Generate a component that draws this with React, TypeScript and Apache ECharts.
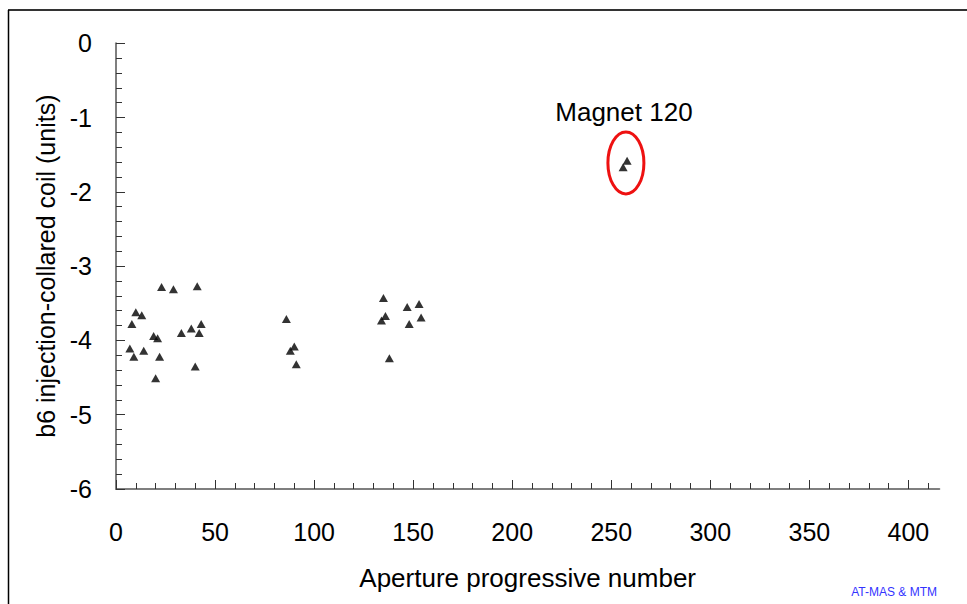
import React, { useEffect, useRef } from "react";
import * as echarts from "echarts";

// ---- data ----
const apertureNumbers = [
  23, 29, 41, 10, 13, 8, 86, 43, 38, 33, 42, 19, 21, 7, 14, 90, 88, 9, 22, 91, 40, 20,
  135, 147, 153, 136, 134, 154, 148, 138,
  258, 256,
];
const b6Values = [
  -3.28, -3.31, -3.27, -3.62, -3.66, -3.78, -3.71, -3.78, -3.84, -3.9, -3.9, -3.94, -3.97, -4.11, -4.14, -4.08, -4.14, -4.22, -4.22, -4.32, -4.35, -4.51,
  -3.43, -3.55, -3.51, -3.67, -3.73, -3.69, -3.78, -4.24,
  -1.58, -1.67,
];
const xMajorTicks = [0, 50, 100, 150, 200, 250, 300, 350, 400];
const xMinorTicks = [10, 20, 30, 40, 60, 70, 80, 90, 110, 120, 130, 140, 160, 170, 180, 190, 210, 220, 230, 240, 260, 270, 280, 290, 310, 320, 330, 340, 360, 370, 380, 390, 410];
const yMajorTicks = [-6, -5, -4, -3, -2, -1, 0];
const yMinorTicks = [
  -5.8, -5.6, -5.4, -5.2, -4.8, -4.6, -4.4, -4.2, -3.8, -3.6, -3.4, -3.2,
  -2.8, -2.6, -2.4, -2.2, -1.8, -1.6, -1.4, -1.2, -0.8, -0.6, -0.4, -0.2,
];
const xTitle = "Aperture progressive number";
const yTitle = "b6 injection-collared coil (units)";
const magnetLabel = "Magnet 120";
const magnetLabelAt = [256.4, -0.92];
const magnetCircleAt = [257.4, -1.61];
const creditText = "AT-MAS & MTM";

const FONT = "'Liberation Sans', Arial, sans-serif";

export default function App() {
  const ref = useRef<HTMLDivElement>(null);
  useEffect(() => {
    if (!ref.current) return;
    const chart = echarts.init(ref.current, null, { renderer: "svg" });
    const points = apertureNumbers.map((x, i) => [x, b6Values[i]]);
    const axisLineStyle = { color: "#7f7f7f", width: 2 };
    const tickStyle = { color: "#333", width: 1 };
    const option: any = {
      animation: false,
      backgroundColor: "#fff",
      grid: { left: 116, top: 43.3, right: 27.7, bottom: 115, containLabel: false },
      xAxis: [
        {
          type: "value", min: 0, max: 415.6, position: "bottom",
          axisLine: { show: true, onZero: false, lineStyle: axisLineStyle },
          axisTick: { show: true, inside: true, length: 9, customValues: xMajorTicks, lineStyle: tickStyle },
          axisLabel: { customValues: xMajorTicks, margin: 30, fontSize: 25, color: "#000", fontFamily: FONT },
          splitLine: { show: false },
          name: xTitle, nameLocation: "middle", nameGap: 76,
          nameTextStyle: { fontSize: 26, color: "#000", fontFamily: FONT },
        },
        {
          type: "value", min: 0, max: 415.6, position: "bottom",
          axisLine: { show: false, onZero: false },
          axisTick: { show: true, inside: true, length: 6, customValues: xMinorTicks, lineStyle: tickStyle },
          axisLabel: { show: false },
          splitLine: { show: false },
        },
      ],
      yAxis: [
        {
          type: "value", min: -6, max: 0, position: "left",
          axisLine: { show: true, onZero: false, lineStyle: axisLineStyle },
          axisTick: { show: true, inside: true, length: 9, customValues: yMajorTicks, lineStyle: tickStyle },
          axisLabel: { customValues: yMajorTicks, margin: 24, fontSize: 25, color: "#000", fontFamily: FONT },
          splitLine: { show: false },
          name: yTitle, nameLocation: "middle", nameGap: 57,
          nameTextStyle: { fontSize: 25, color: "#000", fontFamily: FONT },
        },
        {
          type: "value", min: -6, max: 0, position: "left",
          axisLine: { show: false, onZero: false },
          axisTick: { show: true, inside: true, length: 6, customValues: yMinorTicks, lineStyle: tickStyle },
          axisLabel: { show: false },
          splitLine: { show: false },
        },
      ],
      series: [
        {
          type: "scatter", xAxisIndex: 0, yAxisIndex: 0,
          symbol: "triangle", symbolSize: [9, 8],
          itemStyle: { color: "#000" },
          data: points,
        },
      ],
    };
    chart.setOption(option);

    const labelPx = chart.convertToPixel({ gridIndex: 0 }, magnetLabelAt) as number[];
    const circPx = chart.convertToPixel({ gridIndex: 0 }, magnetCircleAt) as number[];
    chart.setOption({
      graphic: [
        { type: "line", shape: { x1: 8, y1: 10, x2: 1000, y2: 10 }, style: { stroke: "#333", lineWidth: 2 } },
        { type: "line", shape: { x1: 8.5, y1: 10, x2: 8.5, y2: 700 }, style: { stroke: "#000", lineWidth: 1.5 } },
        {
          type: "ellipse",
          shape: { cx: circPx[0], cy: circPx[1], rx: 18, ry: 31 },
          style: { fill: "none", stroke: "#ee1111", lineWidth: 3 },
        },
        {
          type: "text", x: labelPx[0], y: labelPx[1],
          style: { text: magnetLabel, fontSize: 26, fontFamily: FONT, fill: "#000", textAlign: "center", textVerticalAlign: "middle" },
        },
        {
          type: "text", x: 937, y: 592,
          style: { text: creditText, fontSize: 12, fontFamily: FONT, fill: "#3333ff", textAlign: "right", textVerticalAlign: "middle" },
        },
      ],
    });
    return () => chart.dispose();
  }, []);
  return (
    <div
      ref={ref}
      style={{ position: "fixed", left: 0, top: 0, width: 967, height: 604, background: "#fff" }}
    />
  );
}
